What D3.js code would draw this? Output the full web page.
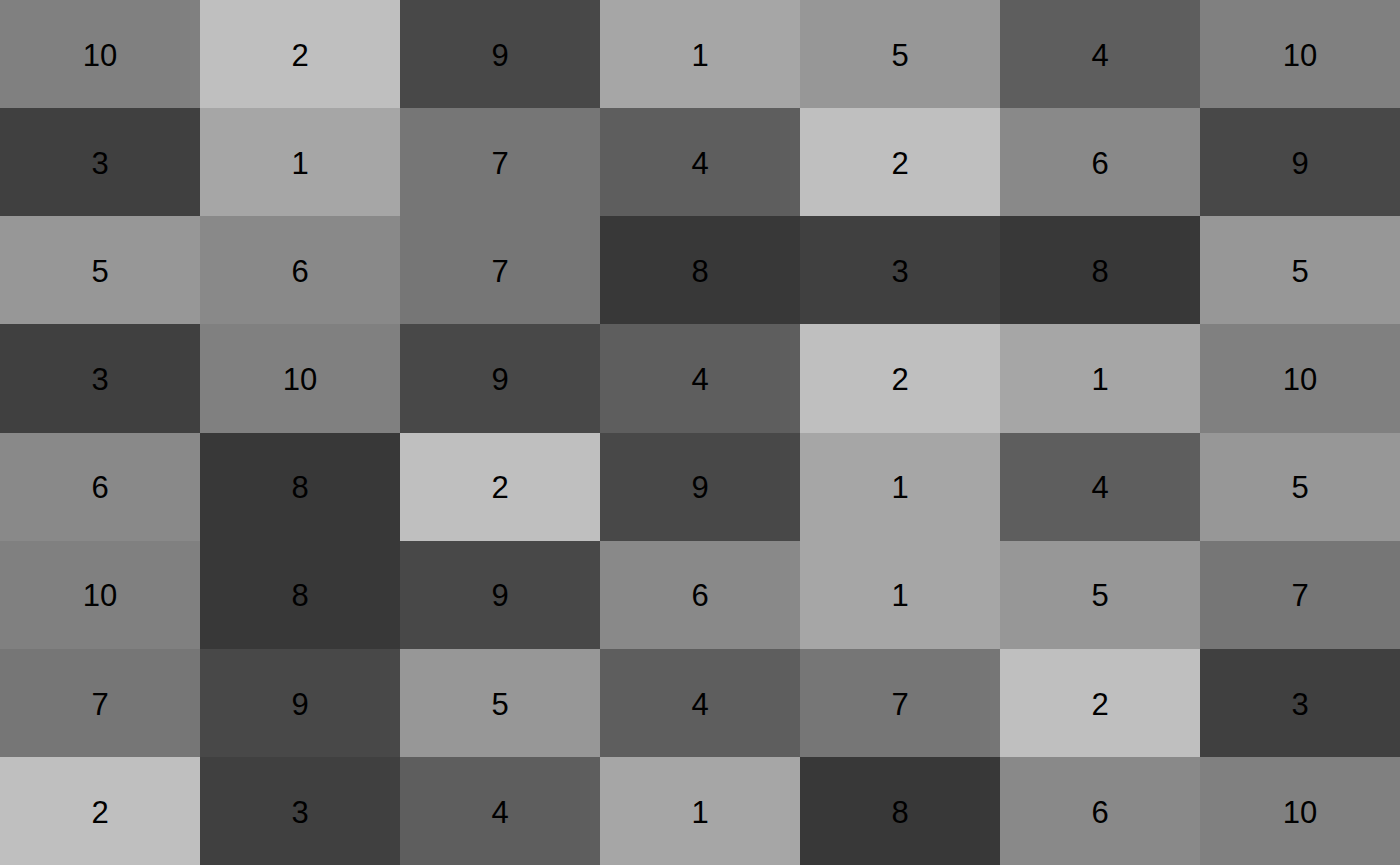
<!DOCTYPE html>
<html>
<head>
<meta charset="utf-8">
<script src="https://cdn.jsdelivr.net/npm/d3@7"></script>
<style>
html,body{margin:0;padding:0;background:#fff;overflow:hidden;}
svg{display:block;}
</style>
</head>
<body>
<svg id="chart" width="1400" height="865"></svg>
<script>
const columns = ["c1","c2","c3","c4","c5","c6","c7"];
const rows = ["r1","r2","r3","r4","r5","r6","r7","r8"];
const row1 = [10,2,9,1,5,4,10];
const row2 = [3,1,7,4,2,6,9];
const row3 = [5,6,7,8,3,8,5];
const row4 = [3,10,9,4,2,1,10];
const row5 = [6,8,2,9,1,4,5];
const row6 = [10,8,9,6,1,5,7];
const row7 = [7,9,5,4,7,2,3];
const row8 = [2,3,4,1,8,6,10];
const valueLevels = [1,2,3,4,5,6,7,8,9,10];
const valueColors = ["#a6a6a6","#bfbfbf","#404040","#5e5e5e","#979797","#898989","#767676","#383838","#484848","#808080"];

const grid = [row1,row2,row3,row4,row5,row6,row7,row8];
const cells = [];
grid.forEach((r,i)=>r.forEach((v,j)=>cells.push({row:rows[i],col:columns[j],value:v})));

const W = 1400, H = 865;
const x = d3.scaleBand().domain(columns).range([0,W]).padding(0);
const y = d3.scaleBand().domain(rows).range([0,H]).padding(0);
const color = d3.scaleOrdinal().domain(valueLevels).range(valueColors);

const svg = d3.select("#chart");
svg.selectAll("rect.cell").data(cells).join("rect")
  .attr("class","cell")
  .attr("x",d=>x(d.col))
  .attr("y",d=>y(d.row))
  .attr("width",x.bandwidth()+0.5)
  .attr("height",y.bandwidth()+0.5)
  .attr("fill",d=>color(d.value))
  .attr("shape-rendering","crispEdges");

svg.selectAll("text.lbl").data(cells).join("text")
  .attr("class","lbl")
  .attr("x",d=>x(d.col)+x.bandwidth()/2)
  .attr("y",d=>y(d.row)+y.bandwidth()/2)
  .attr("text-anchor","middle")
  .attr("dy","0.38em")
  .attr("font-family","'Liberation Sans', Arial, sans-serif")
  .attr("font-size","31px")
  .attr("fill","#000")
  .text(d=>d.value);
</script>
</body>
</html>
